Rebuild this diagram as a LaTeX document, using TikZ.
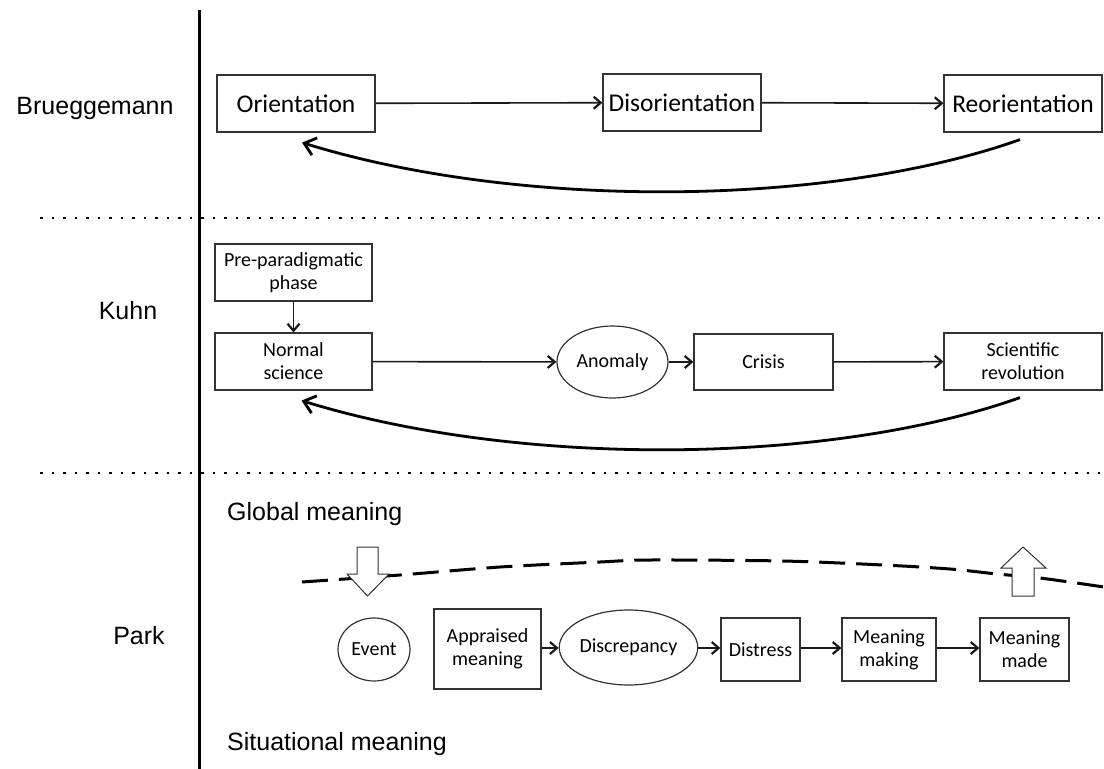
\documentclass[tikz,border=0pt]{standalone}
\usepackage{fontspec}
\setmainfont{Carlito}
\newfontfamily\labelfont{Liberation Sans}
\usetikzlibrary{arrows.meta,shapes.geometric}

\begin{document}
\begin{tikzpicture}[x=1pt,y=-1pt,
  box/.style={draw=black!80, line width=1.2pt, rectangle, inner sep=0pt, align=center},
  oval/.style={draw=black!80, line width=1.2pt, ellipse, inner sep=0pt, align=center},
  bigtext/.style={font=\fontsize{25.5}{30}\selectfont},
  smalltext/.style={font=\fontsize{20}{23}\selectfont},
  flow/.style={line width=1.6pt, draw=black!90, -{Straight Barb[length=7pt,width=12pt,line width=2.2pt]}},
  backloop/.style={line width=2.8pt, -{Straight Barb[length=11pt,width=18pt,line width=2.8pt]}},
  rowlabel/.style={font=\labelfont\fontsize{25}{30}\selectfont, inner sep=0pt, anchor=base},
  leveltext/.style={font=\labelfont\fontsize{25}{30}\selectfont, inner sep=0pt, anchor=base west},
  separator/.style={line width=2.8pt, dash pattern=on 2.8pt off 8.7pt},
  blockarrow/.style={draw=black!80, line width=1pt, fill=white, line join=miter},
]
\useasboundingbox (0,0) rectangle (1104,769);

% column divider and row separators
\draw[line width=3pt] (199,10) -- (199,769);
\draw[separator] (40,218) -- (1100,218);
\draw[separator] (40,473) -- (1100,473);

% row labels
\node[rowlabel] (lb) at (95,114) {Brueggemann};
\node[rowlabel] (lk) at (128,319) {Kuhn};
\node[rowlabel] (lp) at (139,644) {Park};

% Brueggemann
\node[box, bigtext, minimum width=158pt, minimum height=57pt] (O) at (296,103.5) {Orientation};
\node[box, bigtext, minimum width=158pt, minimum height=57pt] (D) at (682,102.5) {Disorientation};
\node[box, bigtext, minimum width=158pt, minimum height=57pt] (R) at (1023,103.5) {Reorientation};
\draw[flow] (O) -- (D);
\draw[flow] (D) -- (R);
\draw[backloop] ([xshift=-3pt,yshift=-7pt]R.south) .. controls (830,207) and (520,210) .. ([xshift=6pt,yshift=-10pt]O.south);

% Kuhn
\node[box, smalltext, minimum width=157pt, minimum height=57pt] (PP) at (293.5,272.5) {Pre-paradigmatic\\phase};
\node[box, smalltext, minimum width=157pt, minimum height=57pt] (NS) at (293.5,361.5) {Normal\\science};
\node[oval, smalltext, minimum width=111pt, minimum height=72pt] (AN) at (612.5,362) {Anomaly};
\node[box, smalltext, minimum width=139pt, minimum height=56pt] (CR) at (763.5,362) {Crisis};
\node[box, smalltext, minimum width=158pt, minimum height=57pt] (SR) at (1023,361.5) {Scientific\\revolution};
\draw[flow] (PP) -- (NS);
\draw[flow] (NS) -- (AN);
\draw[flow] (AN) -- (CR);
\draw[flow] (CR) -- (SR);
\draw[backloop] ([xshift=-3pt,yshift=-7pt]SR.south) .. controls (830,465) and (520,468) .. ([xshift=8pt,yshift=-10pt]NS.south);

% Park
\node[leveltext] (gm) at (227,520) {Global meaning};
\node[leveltext] (sm) at (227,750) {Situational meaning};

\draw[line width=3pt, dash pattern=on 26pt off 11pt]
  plot[smooth, tension=0.5] coordinates {(302,582) (400,575) (500,567) (600,562) (650,560) (783,561) (883,565) (950,569) (997,574) (1040,578) (1104,587)};

\draw[blockarrow] (357,547) -- (378,547) -- (378,574) -- (389,574) -- (367.5,596) -- (347,574) -- (357,574) -- cycle;
\draw[blockarrow] (1012,596) -- (1034,596) -- (1034,568) -- (1046,568) -- (1023,547) -- (1001,568) -- (1012,568) -- cycle;

\node[oval, smalltext, minimum width=72pt, minimum height=63pt] (EV) at (374,649.5) {Event};
\node[box, smalltext, minimum width=107pt, minimum height=80pt] (AM) at (487.5,649) {Appraised\\meaning};
\node[oval, smalltext, minimum width=113pt, minimum height=75pt] (DI) at (628.5,647.5) {Discrepancy};
\node[box, smalltext, minimum width=79pt, minimum height=63pt] (DS) at (760.5,649.5) {Distress};
\node[box, smalltext, minimum width=94pt, minimum height=63pt] (MK) at (889,649.5) {Meaning\\making};
\node[box, smalltext, minimum width=89pt, minimum height=63pt] (MD) at (1024.5,649.5) {Meaning\\made};
\draw[flow] (AM.east |- 0,648) -- (DI.west |- 0,648);
\draw[flow] (DI.east |- 0,648) -- (DS.west |- 0,648);
\draw[flow] (DS.east |- 0,648) -- (MK.west |- 0,648);
\draw[flow] (MK.east |- 0,648) -- (MD.west |- 0,648);
\end{tikzpicture}
\end{document}
